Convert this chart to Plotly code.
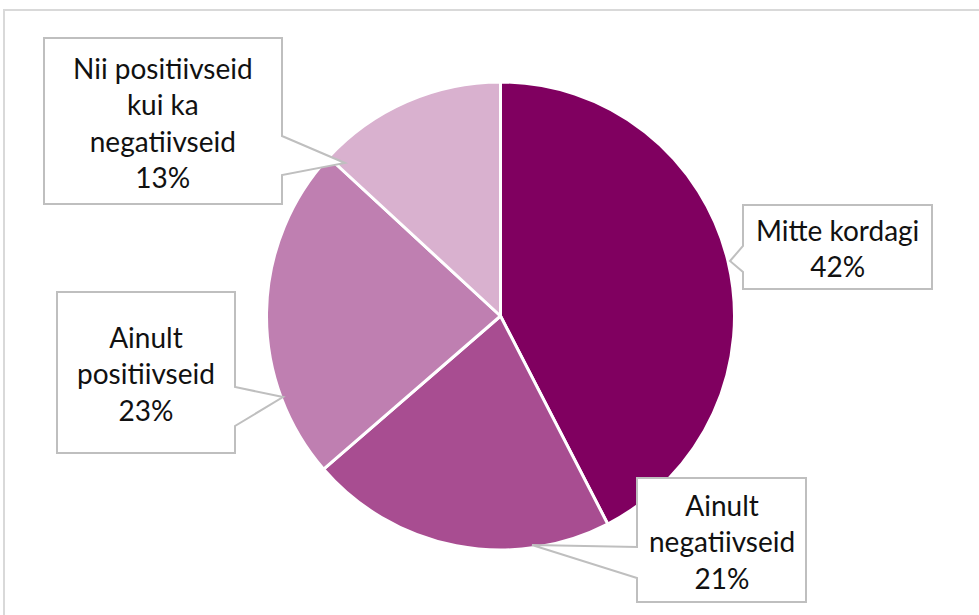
import plotly.graph_objects as go

# ---- data ----
labels = ["Mitte kordagi", "Ainult negatiivseid", "Ainult positiivseid",
          "Nii positiivseid kui ka negatiivseid"]
values = [42, 21, 23, 13]
label_lines = ["Mitte kordagi", "Ainult<br>negatiivseid", "Ainult<br>positiivseid",
               "Nii positiivseid<br>kui ka<br>negatiivseid"]
colors = ["#800060", "#A84D91", "#BF7FB1", "#D9B1CF"]

W, H = 979, 615

# callout layout (pixel coords): box x0,y0,x1,y1 ; side ; pointer base (a,b) ; tip (tx,ty)
callouts = [
    dict(box=(743, 205, 932, 289), side="left", base=(246, 272), tip=(730, 261)),
    dict(box=(637, 478, 806, 602), side="left", base=(547, 578), tip=(532, 545)),
    dict(box=(57, 292, 235, 453), side="right", base=(387, 426), tip=(283, 397)),
    dict(box=(44, 38, 282, 204), side="right", base=(136, 175), tip=(345, 163)),
]


def callout_path(c):
    x0, y0, x1, y1 = c["box"]
    a, b = c["base"]
    tx, ty = c["tip"]
    if c["side"] == "left":
        pts = [(x0, y0), (x1, y0), (x1, y1), (x0, y1), (x0, b), (tx, ty), (x0, a)]
    else:
        pts = [(x0, y0), (x1, y0), (x1, a), (tx, ty), (x1, b), (x1, y1), (x0, y1)]
    return "M " + " L ".join(f"{x},{y}" for x, y in pts) + " Z"


fig = go.Figure()
fig.add_trace(go.Pie(
    labels=labels, values=values, sort=False, direction="clockwise", rotation=0,
    marker=dict(colors=colors, line=dict(color="white", width=3)),
    textinfo="none", hoverinfo="label+percent", showlegend=False,
    domain=dict(x=[266 / W, 735 / W], y=[1 - 550 / H, 1 - 82 / H]),
))

shapes = [dict(type="rect", xref="paper", yref="paper", x0=4 / W, x1=1.05, y0=-0.05,
               y1=1 - 10 / H, line=dict(color="#D9D9D9", width=2), fillcolor="rgba(0,0,0,0)",
               layer="below")]
annotations = []
for c, txt, v in zip(callouts, label_lines, values):
    shapes.append(dict(type="path", xref="x", yref="y", path=callout_path(c),
                       line=dict(color="#BFBFBF", width=2), fillcolor="white", layer="above"))
    x0, y0, x1, y1 = c["box"]
    annotations.append(dict(x=(x0 + x1) / 2, y=(y0 + y1) / 2 + 1, xref="x", yref="y",
                            text=f"{txt}<br>{v}%", showarrow=False, align="center",
                            font=dict(family="Lato, Carlito, Calibri, sans-serif", size=28,
                                      color="#111111")))

fig.update_layout(
    width=W, height=H, margin=dict(l=0, r=0, t=0, b=0),
    paper_bgcolor="white", plot_bgcolor="rgba(0,0,0,0)",
    xaxis=dict(range=[0, W], visible=False, fixedrange=True),
    yaxis=dict(range=[H, 0], visible=False, fixedrange=True),
    shapes=shapes, annotations=annotations,
)

fig.write_html("out.html", config={"displayModeBar": False},
               post_script="document.body.style.margin='0';document.body.style.overflow='hidden';")
